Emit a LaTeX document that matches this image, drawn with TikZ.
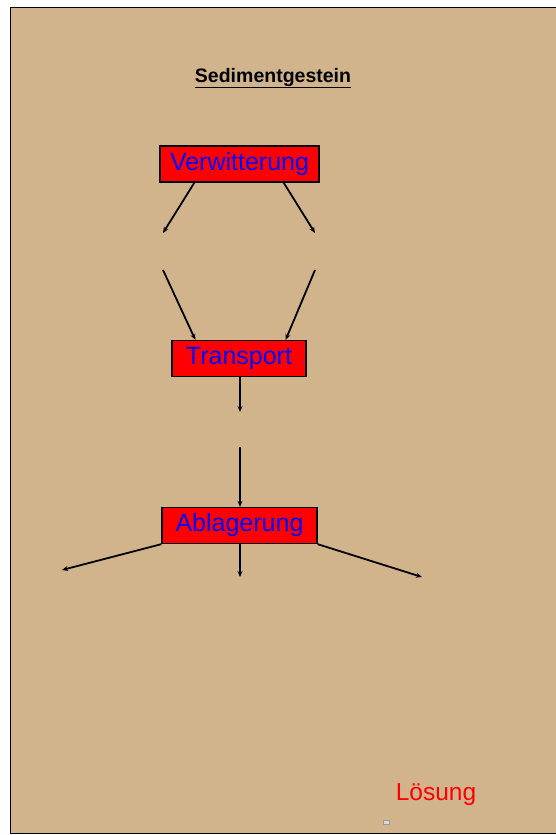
\documentclass[tikz,border=0pt]{standalone}
\usepackage{fontspec}
\setmainfont{Liberation Sans}
\usepackage{tikz}
\usetikzlibrary{arrows.meta}

\tikzset{
    stufe/.style={draw=black, line width=1.3pt, fill=red, text=blue,
        font=\fontsize{25}{25}\selectfont, minimum height=36pt, inner sep=0pt},
    pfeil/.style={-{Stealth[length=6pt,width=5pt]}, line width=1.8pt}
}

\begin{document}
\begin{tikzpicture}[x=1pt, y=-1pt]
    \useasboundingbox (0,0) rectangle (556,835);
    % Background
    \draw[fill={rgb,255:red,210;green,180;blue,140}, line width=0.8pt] (10,7) rectangle (560,833);

    % Title
    \node (titel) at (273,78) {\fontsize{19.5}{20}\selectfont\bfseries\underline{Sedimentgestein}};

    % Stages
    \node[stufe, minimum width=159pt] (verw) at (239.5,164) {Verwitterung};
    \node[stufe, minimum width=134pt] (trans) at (239,358.5) {Transport};
    \node[stufe, minimum width=155pt] (ablag) at (239.5,525.5) {Ablagerung};

    % Free ends
    \coordinate (vl) at (163,233);
    \coordinate (vr) at (315,233);
    \coordinate (tl) at (163,270);
    \coordinate (tr) at (315,270);
    \coordinate (tm) at (240,412);
    \coordinate (am) at (240,447);
    \coordinate (al) at (62,570);
    \coordinate (amu) at (240,577);
    \coordinate (ar) at (422,577);

    % Arrows
    \draw[pfeil] ([xshift=35pt]verw.south west) -- (vl);
    \draw[pfeil] ([xshift=-36pt]verw.south east) -- (vr);
    \draw[pfeil] (tl) -- ([xshift=24pt]trans.north west);
    \draw[pfeil] (tr) -- ([xshift=-21pt]trans.north east);
    \draw[pfeil] (trans.south -| tm) -- (tm);
    \draw[pfeil] (am) -- (ablag.north -| am);
    \draw[pfeil] (ablag.south west) -- (al);
    \draw[pfeil] (ablag.south -| amu) -- (amu);
    \draw[pfeil] (ablag.south east) -- (ar);

    % Solution
    \node[text=red, font=\fontsize{24.5}{25}\selectfont] (loesung) at (436,795) {Lösung};
    \draw[fill=black!15, draw=black!40, line width=0.3pt] (383,820) rectangle (389,824);
\end{tikzpicture}
\end{document}
